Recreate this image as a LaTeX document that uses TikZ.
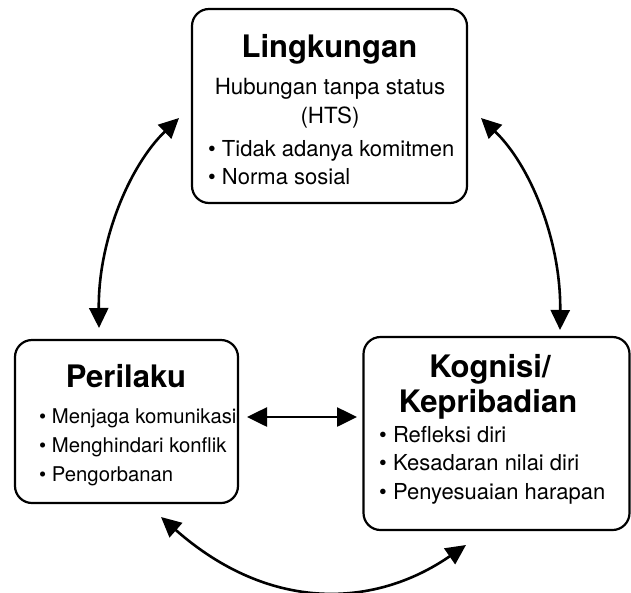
\documentclass[tikz,border=0pt]{standalone}
\usepackage{fontspec}
\setmainfont{TeX Gyre Heros}
\usetikzlibrary{arrows.meta}
\tikzset{
  boxnode/.style={draw, line width=2.2pt, rounded corners=17pt, inner sep=0pt},
  ttl/.style={font=\bfseries\fontsize{31}{36}\selectfont, anchor=base, inner sep=0pt},
  bodyc/.style={font=\fontsize{22.3}{26}\selectfont, anchor=base, inner sep=0pt},
  itemA/.style={font=\fontsize{22}{26}\selectfont, anchor=base west, inner sep=0pt},
  itemB/.style={font=\fontsize{20.3}{24}\selectfont, anchor=base west, inner sep=0pt},
  arr/.style={line width=2.6pt, {Triangle[length=20pt,width=19pt]}-{Triangle[length=20pt,width=19pt]}}
}
\begin{document}
\begin{tikzpicture}[x=1pt,y=-1pt]
\useasboundingbox (0,0) rectangle (631,592);
% boxes
\node[boxnode, minimum width=275pt, minimum height=194pt] (env) at (329.5,106) {};
\node[boxnode, minimum width=223pt, minimum height=163pt] (beh) at (126.5,421.5) {};
\node[boxnode, minimum width=266pt, minimum height=193pt] (cog) at (496.5,433.5) {};
% top box text
\node[ttl] (envt) at (329.5,57) {Lingkungan};
\node[bodyc] (envs1) at (330,94) {Hubungan tanpa status};
\node[bodyc] (envs2) at (330,123) {(HTS)};
\node[itemA] (envi1) at (208,156) {\textbullet\ Tidak adanya komitmen};
\node[itemA] (envi2) at (208,184) {\textbullet\ Norma sosial};
% left box text
\node[ttl] (beht) at (126,387) {Perilaku};
\node[itemB] (behi1) at (39,423) {\textbullet\ Menjaga komunikasi};
\node[itemB] (behi2) at (39,452) {\textbullet\ Menghindari konflik};
\node[itemB] (behi3) at (39,481) {\textbullet\ Pengorbanan};
% right box text
\node[ttl] (cogt1) at (490,377) {Kognisi/};
\node[ttl] (cogt2) at (488,412) {Kepribadian};
\node[itemA] (cogi1) at (379,442) {\textbullet\ Refleksi diri};
\node[itemA] (cogi2) at (379,470) {\textbullet\ Kesadaran nilai diri};
\node[itemA] (cogi3) at (379,499) {\textbullet\ Penyesuaian harapan};
% arrow ends
\coordinate (la) at (99,328);
\coordinate (lb) at (179,118);
\coordinate (ra) at (481,118);
\coordinate (rb) at (560,330);
\coordinate (ba) at (161,517);
\coordinate (bb) at (466,545);
\coordinate (ma) at (247,417);
\coordinate (mb) at (357,417);
% arrows
\draw[arr] (la) .. controls (98,240) and (130,165) .. (lb);
\draw[arr] (ra) .. controls (530,165) and (561,240) .. (rb);
\draw[arr] (ba) .. controls (270,613) and (375,608) .. (bb);
\draw[arr] (ma) -- (mb);
\end{tikzpicture}
\end{document}
